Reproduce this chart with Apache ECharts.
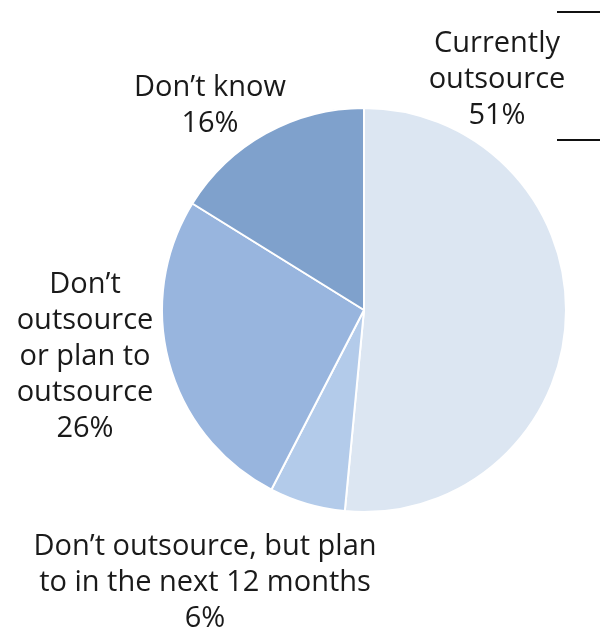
<!DOCTYPE html>
<html>
<head>
<meta charset="utf-8">
<script src="https://cdn.jsdelivr.net/npm/echarts@6/dist/echarts.min.js"></script>
<style>
  html, body { margin: 0; padding: 0; background: #fff; }
  #chart { width: 600px; height: 630px; }
</style>
</head>
<body>
<div id="chart"></div>
<script>
var categories = [
	'Currently\noutsource',
	'Don\u2019t outsource, but plan\nto in the next 12 months',
	'Don\u2019t\noutsource\nor plan to\noutsource',
	'Don\u2019t know'
];
var values = [51, 6, 26, 16];
var colors = ['#dce6f2', '#b3cbea', '#98b5de', '#7fa1cc'];

// label anchor spots (centre of each text block)
var labelSpots = [[497, 80], [205, 583], [85, 357], [210, 106]];

var chart = echarts.init(document.getElementById('chart'));
var option = {
	animation: false,
	color: colors,
	graphic: [
		{ type: 'line', shape: { x1: 557, y1: 12, x2: 600, y2: 12 }, style: { stroke: '#111', lineWidth: 2 } },
		{ type: 'line', shape: { x1: 557, y1: 140, x2: 600, y2: 140 }, style: { stroke: '#111', lineWidth: 2 } }
	],
	series: [
		{
			type: 'pie',
			center: [364, 310],
			radius: [0, 202],
			startAngle: 90,
			clockwise: true,
			avoidLabelOverlap: false,
			itemStyle: { borderColor: '#fff', borderWidth: 2 },
			label: {
				show: true,
				position: 'outside',
				formatter: function (p) { return p.name + '\n' + p.value + '%'; },
				color: '#1a1a1a',
				fontFamily: 'Open Sans',
				fontSize: 29,
				lineHeight: 36,
				align: 'center'
			},
			labelLine: { show: false },
			labelLayout: function (p) {
				var s = labelSpots[p.dataIndex];
				return { x: s[0], y: s[1], align: 'center', verticalAlign: 'middle' };
			},
			data: categories.map(function (c, i) {
				return { name: c, value: values[i] };
			})
		}
	]
};
chart.setOption(option);
</script>
</body>
</html>
